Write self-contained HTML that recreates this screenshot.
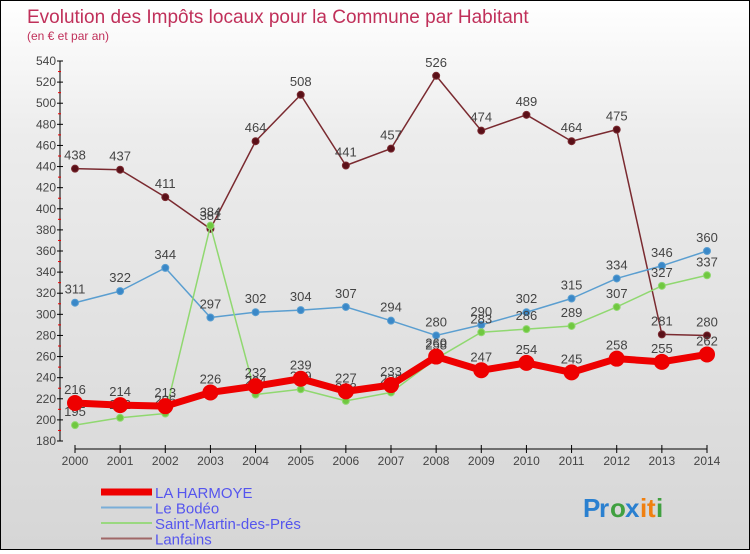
<!DOCTYPE html>
<html><head><meta charset="utf-8"><style>
body{margin:0;width:750px;height:550px;overflow:hidden;font-family:"Liberation Sans",sans-serif}
#wrap{position:relative;width:748px;height:548px;border:1px solid #000;background:linear-gradient(#fff,#ececec 25%,#d6d6d6 100%)}
</style></head><body>
<div id="wrap">
<svg id="c" width="748" height="548"></svg>
</div>
<script>
const years=[2000,2001,2002,2003,2004,2005,2006,2007,2008,2009,2010,2011,2012,2013,2014];
const harmoye=[216,214,213,226,232,239,227,233,260,247,254,245,258,255,262];
const bodeo=[311,322,344,297,302,304,307,294,280,290,302,315,334,346,360];
const stmartin=[195,202,206,384,224,229,218,226,258,283,286,289,307,327,337];
const lanfains=[438,437,411,381,464,508,441,457,526,474,489,464,475,281,280];
const yTicks=[180,200,220,240,260,280,300,320,340,360,380,400,420,440,460,480,500,520,540];
const NS="http://www.w3.org/2000/svg";
const svg=document.getElementById('c');
const X=i=>74+i*(632/14);
const Y=v=>440-(v-180)*(380/360);
function el(t,a,p){const e=document.createElementNS(NS,t);for(const k in a)e.setAttribute(k,a[k]);(p||svg).appendChild(e);return e;}
function tx(x,y,s,a){const t=el('text',Object.assign({x:x,y:y},a));t.textContent=s;return t;}
let t=tx(26,22,'Evolution des Impôts locaux pour la Commune par Habitant',{fill:'#c0305a','font-size':19});

t=tx(26,39,'(en € et par an)',{fill:'#c0305a','font-size':12});

let ax=el('line',{x1:59,y1:Y(540),x2:59,y2:Y(180),stroke:'#000'});

yTicks.forEach(v=>{el('line',{x1:56,x2:62,y1:Y(v),y2:Y(v),stroke:'#000'});
 if(v<540)el('line',{x1:57,x2:60,y1:Y(v+10),y2:Y(v+10),stroke:'#e00'});
 const l=tx(55,Y(v)+4,v,{'text-anchor':'end','font-size':12,fill:'#444'});
 });
ax=el('line',{x1:X(0),y1:448,x2:X(14),y2:448,stroke:'#000'});

years.forEach((y,i)=>{el('line',{x1:X(i),x2:X(i),y1:444,y2:452,stroke:'#000'});
 const l=tx(X(i),464,y,{'text-anchor':'middle','font-size':12,fill:'#444'});
 });
function series(d,color,w,r,name,fill){
 const g=el('g',{});
 el('polyline',{points:d.map((v,i)=>X(i)+','+Y(v)).join(' '),fill:'none',stroke:color,'stroke-width':w,'stroke-linejoin':'round'},g);
 d.forEach((v,i)=>{const c=el('circle',{cx:X(i),cy:Y(v),r:r,fill:fill,stroke:color,'stroke-width':1},g);
  
  tx(X(i),Y(v)-9,v,{'text-anchor':'middle','font-size':13,fill:'#444'},g);});
}
series(lanfains,'#7a2a30',1.5,3.5,'series-lanfains','#5a1018');
series(bodeo,'#5a9ed0',1.5,3.5,'series-le-bodeo','#3a88c8');
series(stmartin,'#90d870',1.5,3.5,'series-saint-martin','#70c840');
series(harmoye,'#ee0000',7,7.5,'series-la-harmoye','#ee0000');
const leg=[['LA HARMOYE','#ee0000',7],['Le Bodéo','#7aaed8',2],['Saint-Martin-des-Prés','#9ad880',2],['Lanfains','#a06868',2]];
leg.forEach((l,i)=>{const g=el('g',{});
 const y=491+i*15.5;el('line',{x1:100,x2:151,y1:y,y2:y,stroke:l[1],'stroke-width':l[2]},g);
 tx(154,y+6,l[0],{'font-size':15,fill:'#5555ee'},g);});
const lg=el('g',{});
const cols=[['P','#2a80d0'],['r','#2a80d0'],['o','#40a040'],['x','#2a80d0'],['i','#f08010'],['t','#f08010'],['i','#40a040']];
let lx=582;const wd=[16,11,15,15,7,9,7];
cols.forEach((c,i)=>{tx(lx,516,c[0],{'font-size':26,fill:c[1],'font-weight':'bold'},lg);lx+=wd[i];});
</script>
</body></html>
